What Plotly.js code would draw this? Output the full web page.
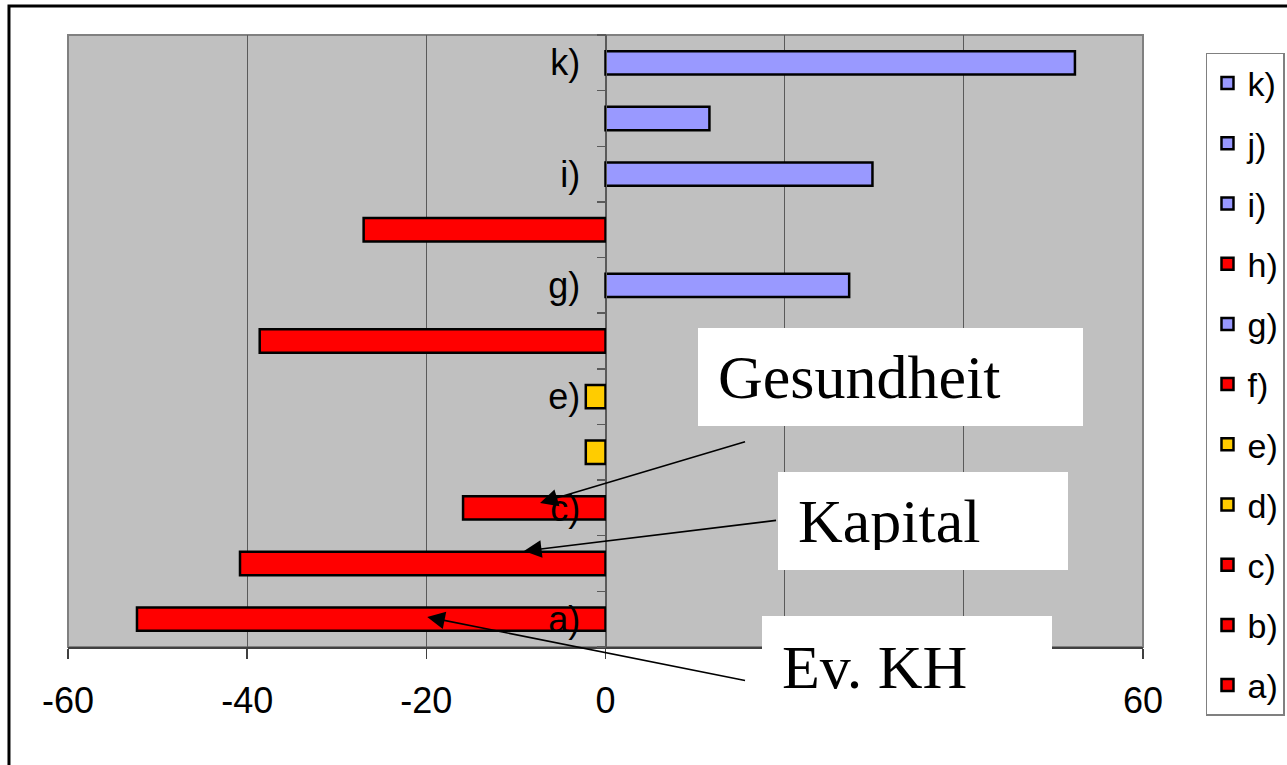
<!DOCTYPE html>
<html>
<head>
<meta charset="utf-8">
<script src="https://cdn.plot.ly/plotly-3.0.1.min.js"></script>
<style>html,body{margin:0;padding:0;background:#fff;}#chart{width:1287px;height:765px;}</style>
</head>
<body>
<div id="chart"></div>
<script>
// ---- data ----
const categories = ['a)','b)','c)','d)','e)','f)','g)','h)','i)','j)','k)'];
const values = [-52.3, -40.8, -15.9, -2.2, -2.2, -38.6, 27.2, -27.0, 29.8, 11.6, 52.4];
const barColors = ['#FF0000','#FF0000','#FF0000','#FFCC00','#FFCC00','#FF0000','#9999FF','#FF0000','#9999FF','#9999FF','#9999FF'];
const yTickText = ['a)','','c)','','e)','','g)','','i)','','k)'];
const xTickVals = [-60, -40, -20, 0, 20, 40, 60];
// 20 and 40 are hidden behind the "Ev. KH" box in the reference
const xTickText = ['-60','-40','-20','0','','','60'];
const noteLabels = ['Gesundheit', 'Kapital', 'Ev. KH'];

// ---- traces (k on top of legend) ----
const traces = [];
for (let i = categories.length - 1; i >= 0; i--) {
  traces.push({
    type: 'bar',
    orientation: 'h',
    name: categories[i],
    legendgroup: categories[i],
    y: [categories[i]],
    x: [values[i]],
    width: 0.42,
    marker: {color: barColors[i], line: {color: '#000000', width: 2.5}},
    hoverinfo: 'skip'
  });
}

const serif = 'Liberation Serif, Times New Roman, serif';
const sans = 'Liberation Sans, Arial, sans-serif';

function box(text, x, y, w, h) {
  return {
    xref: 'paper', yref: 'paper', x: x, y: y, xanchor: 'left', yanchor: 'top',
    text: text, showarrow: false, align: 'left', valign: 'middle',
    width: w, height: h, borderpad: 20, bgcolor: '#ffffff', borderwidth: 0,
    font: {family: serif, size: 62, color: '#000000'}
  };
}
function arrow(hx, hy, tx, ty) {
  return {
    xref: 'x', yref: 'y', axref: 'x', ayref: 'y',
    x: hx, y: hy, ax: tx, ay: ty, text: ' ', showarrow: true,
    arrowhead: 2, arrowsize: 2.2, arrowwidth: 1.6, arrowcolor: '#000000',
    standoff: 0, startstandoff: 0, font: {size: 2}
  };
}

const layout = {
  width: 1287, height: 765,
  margin: {l: 68, r: 144, t: 35, b: 118, autoexpand: false},
  paper_bgcolor: '#ffffff',
  plot_bgcolor: '#C0C0C0',
  barmode: 'overlay',
  showlegend: true,
  legend: {
    x: 1.0586, y: 0.9706, xanchor: 'left', yanchor: 'top',
    bgcolor: '#ffffff', bordercolor: '#808080', borderwidth: 1.5,
    font: {family: sans, size: 34, color: '#000000'},
    traceorder: 'grouped', tracegroupgap: 13, maxheight: 720
  },
  xaxis: {
    range: [-60, 60], tickmode: 'array', tickvals: xTickVals, ticktext: xTickText,
    showgrid: true, gridcolor: '#5a5a5a', gridwidth: 1, zeroline: false,
    showline: true, linecolor: '#404040', linewidth: 1.5,
    ticks: 'outside', ticklen: 10, tickcolor: '#404040', tickwidth: 1.5,
    ticklabelstandoff: 11,
    tickfont: {family: sans, size: 36, color: '#000000'}, fixedrange: true
  },
  yaxis: {
    type: 'category', categoryorder: 'array', categoryarray: categories,
    range: [-0.5, 10.5],
    tickmode: 'array', tickvals: categories, ticktext: yTickText,
    tickson: 'boundaries',
    anchor: 'free', position: 0.5,
    showgrid: false, zeroline: false,
    showline: true, linecolor: '#5a5a5a', linewidth: 1.5,
    ticks: 'outside', ticklen: 9, tickcolor: '#5a5a5a', tickwidth: 1.5,
    ticklabelstandoff: 18,
    tickfont: {family: sans, size: 36, color: '#000000'}, fixedrange: true
  },
  shapes: [
    {type: 'rect', xref: 'paper', yref: 'paper', x0: 0, y0: 0, x1: 1, y1: 1,
     line: {color: '#808080', width: 2}, fillcolor: 'rgba(0,0,0,0)', layer: 'below'},
    {type: 'rect', xref: 'paper', yref: 'paper', x0: -0.0549, y0: 1.0474, x1: 1.4, y1: -0.5,
     line: {color: '#000000', width: 3}, fillcolor: 'rgba(0,0,0,0)', layer: 'below'}
  ],
  annotations: [
    arrow(-7.3, 2.09, 15.8, 3.2),
    arrow(-9.1, 1.225, 19.26, 1.78),
    arrow(-19.9, 0.04, 15.8, -1.11),
    box(noteLabels[0], 0.586, 0.5212, 345, 58),
    box(noteLabels[1], 0.6605, 0.286, 250, 58),
    box(noteLabels[2], 0.6456, 0.0507, 250, 62)
  ]
};

Plotly.newPlot('chart', traces, layout, {displayModeBar: false, staticPlot: true});
</script>
</body>
</html>
